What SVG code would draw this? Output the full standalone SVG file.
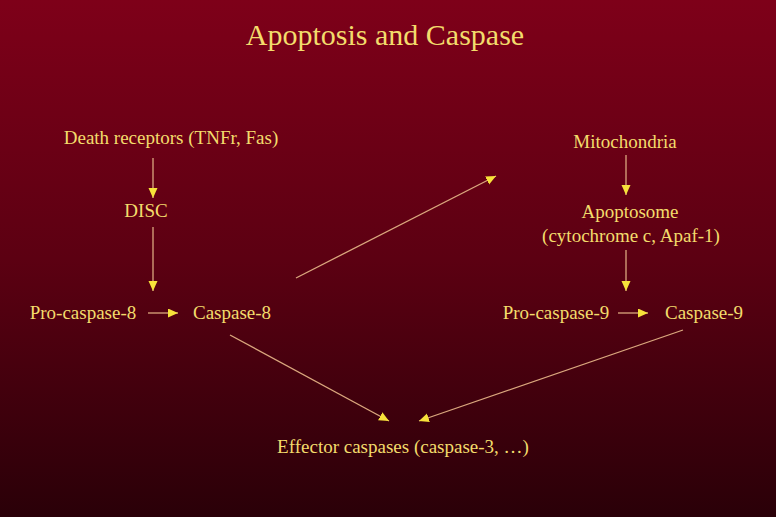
<svg xmlns="http://www.w3.org/2000/svg" width="776" height="517" viewBox="0 0 776 517">
<defs>
<linearGradient id="bg" x1="0" y1="0" x2="0" y2="1">
<stop offset="0" stop-color="#7e0019"/>
<stop offset="0.5" stop-color="#5c0012"/>
<stop offset="1" stop-color="#2a0008"/>
</linearGradient>
<marker id="ah" markerUnits="userSpaceOnUse" markerWidth="12" markerHeight="10" refX="10" refY="4.5" orient="auto">
<path d="M0,0 L10,4.5 L0,9 Z" fill="#f7e23a"/>
</marker>
<style>
text{font-family:"Liberation Serif","Times New Roman",serif;fill:#f3dc6c;font-size:19px;text-anchor:middle}
.title{font-size:30px}
.c{stroke:#dba77e;stroke-width:1.3;fill:none;marker-end:url(#ah)}
</style>
</defs>
<rect width="776" height="517" fill="url(#bg)"/>
<text class="title" x="385" y="45">Apoptosis and Caspase</text>
<g id="connectors">
<line class="c" x1="153" y1="158" x2="153" y2="198"/>
<line class="c" x1="153" y1="227" x2="153" y2="291"/>
<line class="c" x1="148" y1="313" x2="178" y2="313"/>
<line class="c" x1="296" y1="278" x2="496" y2="176"/>
<line class="c" x1="626" y1="155" x2="626" y2="195"/>
<line class="c" x1="626" y1="250" x2="626" y2="291"/>
<line class="c" x1="618" y1="313" x2="648" y2="313"/>
<line class="c" x1="230" y1="335" x2="389" y2="421"/>
<line class="c" x1="683" y1="330" x2="419" y2="421"/>
</g>
<g id="death-receptors"><text x="171" y="144">Death receptors (TNFr, Fas)</text></g>
<g id="disc"><text x="146" y="217">DISC</text></g>
<g id="pro-caspase-8"><text x="83" y="319">Pro-caspase-8</text></g>
<g id="caspase-8"><text x="232" y="319">Caspase-8</text></g>
<g id="mitochondria"><text x="625" y="148">Mitochondria</text></g>
<g id="apoptosome"><text x="630" y="218">Apoptosome</text><text x="631" y="242">(cytochrome c, Apaf-1)</text></g>
<g id="pro-caspase-9"><text x="556" y="319">Pro-caspase-9</text></g>
<g id="caspase-9"><text x="704" y="319">Caspase-9</text></g>
<g id="effector"><text x="403" y="453">Effector caspases (caspase-3, …)</text></g>
</svg>
